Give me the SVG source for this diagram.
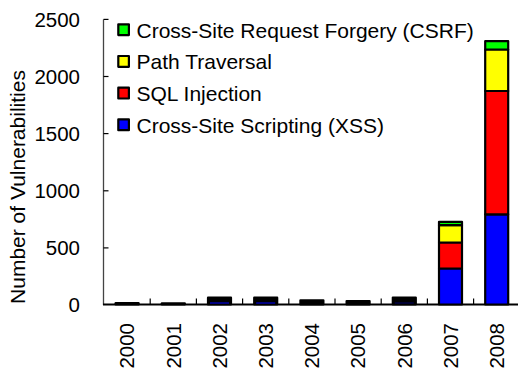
<svg xmlns="http://www.w3.org/2000/svg" width="518" height="371" viewBox="0 0 518 371">
<style>
text{font-family:"Liberation Sans",Arial,sans-serif;fill:#000}
.num{font-size:20.5px}
.lab{font-size:21px}
.seg{stroke:#000;stroke-width:2.2;stroke-linejoin:round}
.g{fill:#00ff00}.y{fill:#ffff00}.r{fill:#ff0000}.b{fill:#0000ff}.k{fill:#000}
.tick{stroke:#000;stroke-width:1.2}
</style>
<rect width="518" height="371" fill="#fff"/>
<g id="axes">
<line x1="103.5" y1="19.4" x2="103.5" y2="305" stroke="#444" stroke-width="1.3"/>
<line x1="103" y1="304.5" x2="518" y2="304.5" stroke="#000" stroke-width="2"/>
<g class="tick">
<line x1="103.5" y1="19.4" x2="108.5" y2="19.4"/>
<line x1="103.5" y1="76.5" x2="108.5" y2="76.5"/>
<line x1="103.5" y1="133.6" x2="108.5" y2="133.6"/>
<line x1="103.5" y1="190.8" x2="108.5" y2="190.8"/>
<line x1="103.5" y1="247.9" x2="108.5" y2="247.9"/>
<line x1="150.2" y1="304.5" x2="150.2" y2="298.5"/>
<line x1="196.4" y1="304.5" x2="196.4" y2="298.5"/>
<line x1="242.6" y1="304.5" x2="242.6" y2="298.5"/>
<line x1="288.8" y1="304.5" x2="288.8" y2="298.5"/>
<line x1="335" y1="304.5" x2="335" y2="298.5"/>
<line x1="381.2" y1="304.5" x2="381.2" y2="298.5"/>
<line x1="427.4" y1="304.5" x2="427.4" y2="298.5"/>
<line x1="473.6" y1="304.5" x2="473.6" y2="298.5"/>
</g>
<g class="num" text-anchor="end">
<text x="80" y="26.7">2500</text>
<text x="80" y="83.8">2000</text>
<text x="80" y="140.9">1500</text>
<text x="80" y="198.1">1000</text>
<text x="80" y="255.2">500</text>
<text x="80" y="312.3">0</text>
</g>
<text class="lab" text-anchor="middle" transform="translate(25,187) rotate(-90)">Number of Vulnerabilities</text>
<g class="num" text-anchor="end">
<text transform="translate(134.4,323) rotate(-90)">2000</text>
<text transform="translate(180.6,323) rotate(-90)">2001</text>
<text transform="translate(226.8,323) rotate(-90)">2002</text>
<text transform="translate(273,323) rotate(-90)">2003</text>
<text transform="translate(319.2,323) rotate(-90)">2004</text>
<text transform="translate(365.4,323) rotate(-90)">2005</text>
<text transform="translate(411.6,323) rotate(-90)">2006</text>
<text transform="translate(457.8,323) rotate(-90)">2007</text>
<text transform="translate(504,323) rotate(-90)">2008</text>
</g>
</g>
<g id="bar-2000"><rect class="seg k" x="115.6" y="303.2" width="23" height="1.3"/></g>
<g id="bar-2001"><rect class="seg k" x="161.8" y="303.3" width="23" height="1.2"/></g>
<g id="bar-2002"><rect class="seg k" x="208" y="297.7" width="23" height="6.8"/><line x1="210" y1="303" x2="229" y2="303" stroke="#0000ff" stroke-width="1"/></g>
<g id="bar-2003"><rect class="seg k" x="254.2" y="297.7" width="23" height="6.8"/><line x1="256.2" y1="303" x2="275.2" y2="303" stroke="#0000ff" stroke-width="1"/></g>
<g id="bar-2004"><rect class="seg k" x="300.4" y="300.3" width="23" height="4.2"/></g>
<g id="bar-2005"><rect class="seg k" x="346.6" y="301" width="23" height="3.5"/></g>
<g id="bar-2006"><rect class="seg k" x="392.8" y="297.6" width="23" height="6.9"/><line x1="394.8" y1="303" x2="413.8" y2="303" stroke="#000066" stroke-width="1"/></g>
<g id="bar-2007">
<rect class="seg b" x="439" y="268.5" width="23" height="36"/>
<rect class="seg r" x="439" y="242.5" width="23" height="26"/>
<rect class="seg y" x="439" y="225.2" width="23" height="17.3"/>
<rect class="seg g" x="439" y="221.8" width="23" height="3.4"/>
</g>
<g id="bar-2008">
<rect class="seg b" x="485.2" y="214.3" width="23" height="90.2"/>
<rect class="seg r" x="485.2" y="91" width="23" height="123.3"/>
<rect class="seg y" x="485.2" y="49.5" width="23" height="41.5"/>
<rect class="seg g" x="485.2" y="41.2" width="23" height="8.3"/>
</g>
<g id="legend">
<rect class="seg g" x="118.3" y="24.3" width="10.6" height="10.8" stroke-width="2"/>
<rect class="seg y" x="118.3" y="56" width="10.6" height="10.8" stroke-width="2"/>
<rect class="seg r" x="118.3" y="87.7" width="10.6" height="10.8" stroke-width="2"/>
<rect class="seg b" x="118.3" y="119.4" width="10.6" height="10.8" stroke-width="2"/>
<g class="lab">
<text x="136.5" y="37.6">Cross-Site Request Forgery (CSRF)</text>
<text x="136.5" y="69.3">Path Traversal</text>
<text x="136.5" y="101">SQL Injection</text>
<text x="136.5" y="132.7">Cross-Site Scripting (XSS)</text>
</g>
</g>
</svg>
